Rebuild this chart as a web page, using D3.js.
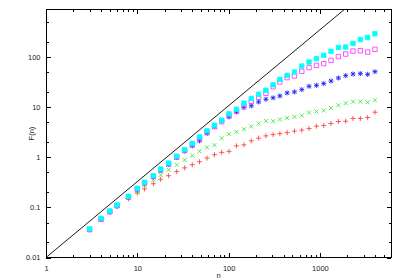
<!DOCTYPE html>
<html>
<head>
<meta charset="utf-8">
<script src="https://cdn.jsdelivr.net/npm/d3@7"></script>
<style>
body { margin: 0; background: #fff; }
text { font-family: "Liberation Sans", Arial, sans-serif; font-size: 7.5px; fill: #222; }
</style>
</head>
<body>
<div id="chart"></div>
<script>
// chart values
const nValues = [3, 4, 5, 6, 8, 10, 12, 15, 18, 22, 27, 33, 40, 48, 58, 70, 84, 101, 122, 147,
    177, 213, 256, 307, 364, 437, 526, 633, 760, 916, 1100, 1322, 1593, 1914, 2300, 2771, 3328, 4002];

const seriesRed = [0.036, 0.058, 0.081, 0.105, 0.148, 0.194, 0.234, 0.298, 0.365, 0.430, 0.521, 0.618,
    0.712, 0.818, 0.968, 1.13, 1.26, 1.32, 1.70, 1.78, 2.14, 2.42, 2.69, 2.85, 2.98, 3.12, 3.34, 3.50,
    3.78, 4.20, 4.34, 4.75, 5.21, 5.28, 5.98, 5.98, 6.26, 7.99];

const seriesGreen = [0.036, 0.058, 0.082, 0.107, 0.155, 0.208, 0.272, 0.358, 0.444, 0.566, 0.712, 0.892,
    1.08, 1.32, 1.58, 1.76, 2.42, 2.91, 3.24, 3.66, 4.15, 4.75, 5.36, 5.28, 5.71, 6.15, 6.44, 6.87,
    7.87, 8.25, 8.64, 9.73, 11.0, 12.1, 13.0, 13.0, 12.6, 13.8];

const seriesBlue = [0.036, 0.058, 0.082, 0.108, 0.162, 0.228, 0.301, 0.405, 0.546, 0.719, 0.99, 1.34,
    1.70, 2.14, 3.01, 4.15, 5.36, 6.44, 8.10, 9.91, 10.7, 12.8, 14.5, 15.5, 16.9, 19.4, 20.3, 22.6,
    26.3, 27.5, 29.8, 33.6, 38.5, 43.0, 46.3, 47.1, 45.6, 51.6];

const seriesMagenta = [0.036, 0.058, 0.082, 0.108, 0.162, 0.234, 0.308, 0.415, 0.558, 0.736, 1.01, 1.37,
    1.80, 2.42, 3.19, 4.11, 5.16, 6.80, 8.36, 10.8, 13.2, 15.9, 19.1, 25.7, 32.1, 39.2, 42.2, 52.4,
    62.1, 69.0, 74.6, 86.7, 103, 116, 133, 135, 127, 144];

const seriesCyan = [0.0373, 0.0604, 0.0851, 0.112, 0.167, 0.241, 0.318, 0.430, 0.585, 0.770, 1.06, 1.43,
    1.90, 2.57, 3.39, 4.40, 5.53, 7.39, 9.17, 12.1, 15.0, 18.2, 21.9, 28.2, 36.3, 43.6, 50.7, 66.8,
    80.2, 93.8, 109, 131, 157, 160, 189, 227, 249, 295];

// reference line end points
const lineN = [1, 1850];
const lineF = [0.01, 900];

const xTicks = [1, 10, 100, 1000];
const yTicks = [0.01, 0.1, 1, 10, 100];
const xMinorTicks = [];
[1, 10, 100, 1000].forEach(d => [2, 3, 4, 5, 6, 7, 8, 9].forEach(k => xMinorTicks.push(d * k)));
const yMinorTicks = [0.02, 0.05, 0.2, 0.5, 2, 5, 20, 50, 200, 500];

const xDomain = [1, 6000];
const yDomain = [0.01, 900];

// draw order: the last one ends up on top
const series = [
    {values: seriesRed,     color: '#ff3b3b', symbol: 'plus'},
    {values: seriesGreen,   color: '#2fe82f', symbol: 'cross'},
    {values: seriesBlue,    color: '#1a1aff', symbol: 'star'},
    {values: seriesMagenta, color: '#ff33ff', symbol: 'box'},
    {values: seriesCyan,    color: '#00ffff', symbol: 'fbox'}
];

const width = 400, height = 280;
const margin = {top: 9.5, right: 9, bottom: 22.5, left: 46};
const w = width - margin.left - margin.right;
const h = height - margin.top - margin.bottom;

const svg = d3.select('#chart').append('svg')
    .attr('width', width)
    .attr('height', height);

const plot = svg.append('g')
    .attr('transform', `translate(${margin.left},${margin.top})`);

const xScale = d3.scaleLog().domain(xDomain).range([0, w]);
const yScale = d3.scaleLog().domain(yDomain).range([h, 0]);

plot.append('clipPath').attr('id', 'clip')
    .append('rect').attr('width', w).attr('height', h);

// ticks point inward, on all four sides
function addAxis(axis, transform) {
    const g = plot.append('g')
        .attr('transform', transform)
        .call(axis);
    g.select('.domain').remove();
    g.selectAll('line').attr('stroke', '#000').attr('shape-rendering', 'crispEdges');
    g.selectAll('text').attr('font-family', null).attr('font-size', null).attr('fill', '#222');
    return g;
}

const fmt = d => d3.format('~g')(d);

addAxis(d3.axisBottom(xScale).tickValues(xTicks).tickFormat(fmt).tickSize(-4.5).tickPadding(8), `translate(0,${h})`);
addAxis(d3.axisBottom(xScale).tickValues(xMinorTicks.filter(d => d < xDomain[1])).tickFormat('').tickSize(-2.5), `translate(0,${h})`);
addAxis(d3.axisTop(xScale).tickValues(xTicks).tickFormat('').tickSize(-4.5), 'translate(0,0)');
addAxis(d3.axisTop(xScale).tickValues(xMinorTicks.filter(d => d < xDomain[1])).tickFormat('').tickSize(-2.5), 'translate(0,0)');

addAxis(d3.axisLeft(yScale).tickValues(yTicks).tickFormat(fmt).tickSize(-4.5).tickPadding(5.5), 'translate(0,0)');
addAxis(d3.axisLeft(yScale).tickValues(yMinorTicks).tickFormat('').tickSize(-2.5), 'translate(0,0)');
addAxis(d3.axisRight(yScale).tickValues(yTicks).tickFormat('').tickSize(-4.5), `translate(${w},0)`);
addAxis(d3.axisRight(yScale).tickValues(yMinorTicks).tickFormat('').tickSize(-2.5), `translate(${w},0)`);

// border
plot.append('rect')
    .attr('width', w)
    .attr('height', h)
    .attr('fill', 'none')
    .attr('stroke', '#000')
    .attr('shape-rendering', 'crispEdges');

// axis labels
svg.append('text')
    .attr('text-anchor', 'middle')
    .attr('x', margin.left + w / 2)
    .attr('y', 277.5)
    .text('n');

svg.append('text')
    .attr('text-anchor', 'middle')
    .attr('transform', `translate(34,${margin.top + h / 2}) rotate(-90)`)
    .text('F(n)');

// reference line
const line = d3.line()
    .x(d => xScale(d[0]))
    .y(d => yScale(d[1]));

plot.append('path')
    .datum(d3.zip(lineN, lineF))
    .attr('clip-path', 'url(#clip)')
    .attr('fill', 'none')
    .attr('stroke', '#000')
    .attr('stroke-width', 0.9)
    .attr('d', line);

// point symbols
function symbolPath(type) {
    const p = 2.5, c = 2, b = 2.2;
    if (type === 'plus') return `M${-p},0H${p}M0,${-p}V${p}`;
    if (type === 'cross') return `M${-c},${-c}L${c},${c}M${-c},${c}L${c},${-c}`;
    if (type === 'star') return `M${-p},0H${p}M0,${-p}V${p}M${-c},${-c}L${c},${c}M${-c},${c}L${c},${-c}`;
    return `M${-b},${-b}H${b}V${b}H${-b}Z`;
}

series.forEach(s => {
    plot.append('g')
        .selectAll('path')
        .data(d3.zip(nValues, s.values))
        .enter()
        .append('path')
        .attr('transform', d => `translate(${xScale(d[0])},${yScale(d[1])})`)
        .attr('d', symbolPath(s.symbol))
        .attr('fill', s.symbol === 'fbox' ? s.color : 'none')
        .attr('stroke', s.color)
        .attr('stroke-width', 0.85);
});
</script>
</body>
</html>
